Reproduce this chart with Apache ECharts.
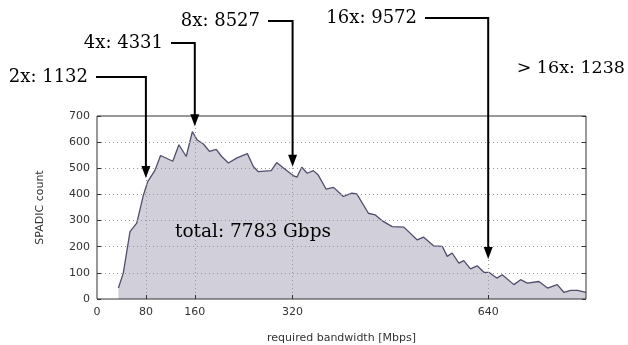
<!DOCTYPE html>
<html><head><meta charset="utf-8">
<script src="https://cdn.jsdelivr.net/npm/echarts@6/dist/echarts.min.js"></script>
<style>html,body{margin:0;padding:0;background:#fff}#c{width:628px;height:345px}</style>
</head><body><div id="c"></div>
<script>
// ---- data ----
const bandwidth = [35,43,54,65,76,83,95,104,124,134,146,156,164,174,184,195,204,215,229,246,256,264,285,294,307,321,327,335,344,354,362,375,387,403,417,425,444,455,466,483,502,524,534,551,565,573,581,592,600,611,622,633,641,654,663,682,693,704,723,737,753,764,775,786,800];
const counts    = [42,99,258,290,398,449,493,549,527,590,545,640,608,593,565,572,545,520,540,556,506,487,491,522,497,472,466,504,481,491,474,420,427,392,405,402,328,322,300,277,275,226,237,203,201,163,176,137,147,115,127,102,102,80,93,55,74,61,67,42,55,25,33,33,25];
const xTickValues = [80,160,320,640];
const xLabelValues = [0,80,160,320,640];
const arrowLabels = ['2x: 1132','4x: 4331','8x: 8527','16x: 9572'];
const arrowTargetX = [80,160,320,640];
const arrowTipY = [463,661,506,153];
const extraLabel = '> 16x: 1238';
const totalLabel = 'total: 7783 Gbps';

// ---- layout (pixels) ----
const arrowElbowY = [77,43,21,18];
const arrowStartX = [96,171,268,425];

const chart = echarts.init(document.getElementById('c'), null, {renderer:'canvas'});
const axisTxt = {fontFamily:'DejaVu Sans', fontSize:11, color:'#333'};
const tick = {show:true, inside:true, length:4, lineStyle:{color:'#333', width:1}};
chart.setOption({
  animation:false,
  backgroundColor:'#fff',
  grid:{left:97, right:42, top:116, bottom:46, show:true, borderColor:'#333', borderWidth:1,
    backgroundColor:'transparent', containLabel:false, outerBoundsMode:'none'},
  xAxis:{type:'value', min:0, max:800,
    name:'required bandwidth [Mbps]', nameLocation:'middle', nameGap:34,
    nameTextStyle:axisTxt,
    axisLine:{show:false},
    axisTick:Object.assign({customValues:xTickValues}, tick),
    axisLabel:Object.assign({customValues:xLabelValues, margin:8}, axisTxt),
    splitLine:{show:true, lineStyle:{color:'#999', type:[1,3], width:1}}
  },
  yAxis:[{type:'value', min:0, max:700, interval:100,
    name:'SPADIC count', nameLocation:'middle', nameGap:51, nameRotate:90,
    nameTextStyle:axisTxt,
    axisLine:{show:false}, axisTick:tick,
    axisLabel:Object.assign({margin:7}, axisTxt),
    splitLine:{show:true, lineStyle:{color:'#999', type:[1,3], width:1}}
  },{type:'value', min:0, max:700, interval:100, position:'right',
    axisLine:{show:false}, axisTick:tick, axisLabel:{show:false}, splitLine:{show:false}
  }],
  series:[{type:'line', z:-1, symbol:'none',
    data:bandwidth.map((x,i)=>[x,counts[i]]),
    lineStyle:{color:'#4f4f6c', width:1.3},
    areaStyle:{color:'#d1d0da', opacity:1}
  }]
});

const serif = 'DejaVu Serif';
const els = [];
for (let i=0;i<arrowLabels.length;i++){
  const tip = chart.convertToPixel({gridIndex:0},[arrowTargetX[i], arrowTipY[i]]);
  const tx = tip[0], ty = tip[1];
  const ey = arrowElbowY[i];
  els.push({type:'polyline', shape:{points:[[arrowStartX[i],ey],[tx,ey],[tx,ty-10]]},
    style:{stroke:'#000', lineWidth:2, fill:null}, z:100});
  els.push({type:'polygon', shape:{points:[[tx-4.5,ty-12],[tx+4.5,ty-12],[tx,ty]]},
    style:{fill:'#000'}, z:100});
  els.push({type:'text', x:arrowStartX[i]-8, y:ey, z:100,
    style:{text:arrowLabels[i], font:'18px "'+serif+'"', fill:'#000', align:'right', verticalAlign:'middle'}});
}
els.push({type:'text', x:625, y:68, z:100,
  style:{text:extraLabel, font:'17.5px "'+serif+'"', fill:'#000', align:'right', verticalAlign:'middle'}});
els.push({type:'text', x:175, y:232, z:100,
  style:{text:totalLabel, font:'18.5px "'+serif+'"', fill:'#000', align:'left', verticalAlign:'middle'}});
chart.setOption({graphic:{elements:els}});
</script>
</body></html>
